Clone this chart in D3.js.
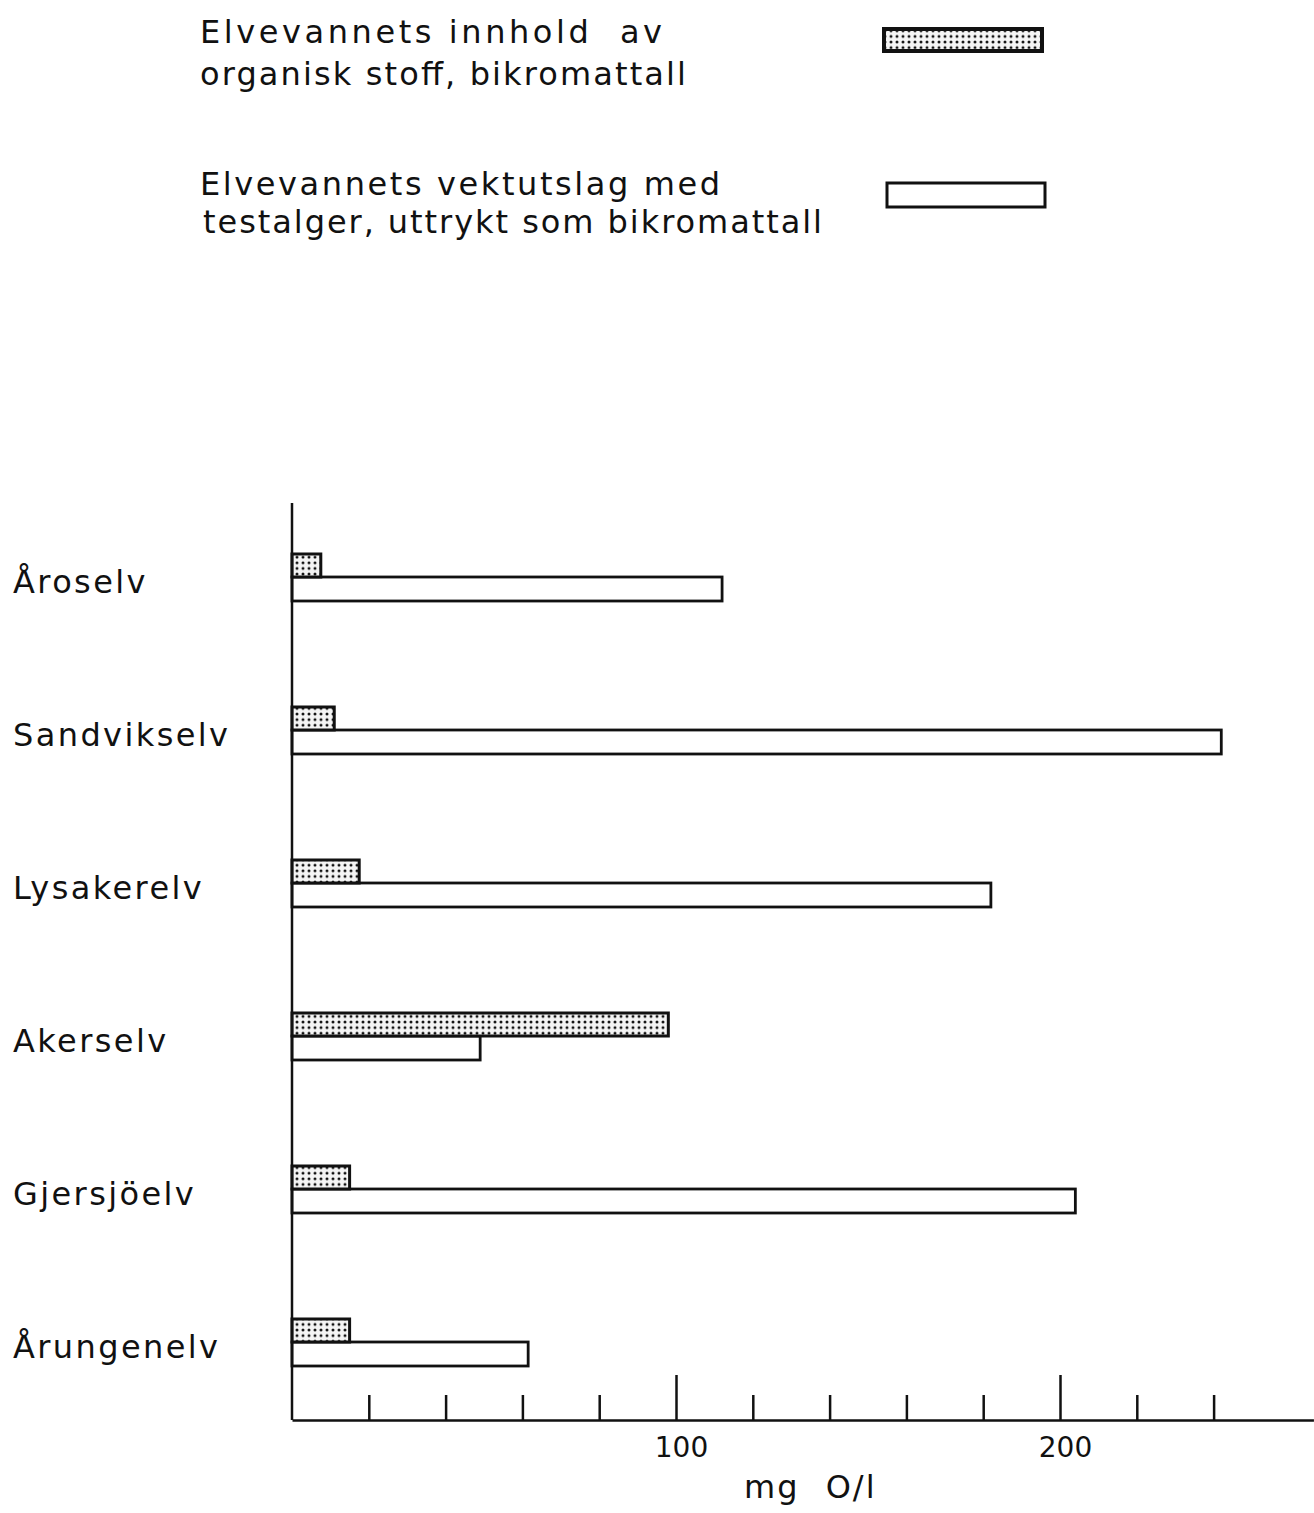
<!DOCTYPE html>
<html>
<head>
<meta charset="utf-8">
<script src="https://cdn.jsdelivr.net/npm/d3@7"></script>
<style>
  html, body { margin: 0; padding: 0; background: #fff; }
  svg { display: block; }
  text { font-family: "DejaVu Sans", sans-serif; fill: #111; }
</style>
</head>
<body>
<svg id="chart" width="1314" height="1513"></svg>
<script>
// ---- data ----
const rivers = ["Åroselv", "Sandvikselv", "Lysakerelv", "Akerselv", "Gjersjöelv", "Årungenelv"];
const organicMatter = [7.5, 11, 17.5, 98, 15, 15];        // stippled bars, mg O/l
const algaeGrowth   = [112, 242, 182, 49, 204, 61.5];      // white bars, mg O/l
const tickValues    = [20, 40, 60, 80, 100, 120, 140, 160, 180, 200, 220, 240];
const labeledTicks  = [100, 200];
const axisTitle     = "mg O/l";
const legendLines1  = ["Elvevannets innhold  av", "organisk stoff, bikromattall"];
const legendLines2  = ["Elvevannets vektutslag med", "testalger, uttrykt som bikromattall"];

// ---- layout ----
const svg = d3.select("#chart");
const x0 = 292, axisY = 1420, axisTop = 503;
const x = d3.scaleLinear().domain([0, 266]).range([x0, x0 + 266 * 3.84]);
const y = d3.scalePoint().domain(rivers).range([577, 1342]);
const barH = 23;

// stipple pattern
const defs = svg.append("defs");
const pat = defs.append("pattern")
  .attr("id", "stipple").attr("patternUnits", "userSpaceOnUse")
  .attr("width", 6).attr("height", 5.6);
pat.append("rect").attr("width", 6).attr("height", 5.6).attr("fill", "#f4f4f4");
pat.append("circle").attr("cx", 3).attr("cy", 2.8).attr("r", 1.5).attr("fill", "#111");

// ---- legend ----
const legend = svg.append("g");
function legendText(lines, baselines, lengths, x) {
  lines.forEach((t, i) => {
    legend.append("text")
      .attr("x", x[i]).attr("y", baselines[i])
      .attr("font-size", 32)
      .attr("textLength", lengths[i])
      .attr("lengthAdjust", "spacing")
      .style("white-space", "pre")
      .text(t);
  });
}
legendText(legendLines1, [43, 85], [462, 486], [200, 200]);
legendText(legendLines2, [195, 233], [520, 619], [200, 203]);
legend.append("rect").attr("x", 884).attr("y", 29).attr("width", 158).attr("height", 22)
  .attr("fill", "url(#stipple)").attr("stroke", "#111").attr("stroke-width", 4);
legend.append("rect").attr("x", 887).attr("y", 183).attr("width", 158).attr("height", 24)
  .attr("fill", "#fff").attr("stroke", "#111").attr("stroke-width", 3);

// ---- bars ----
const data = rivers.map((r, i) => ({ r, org: organicMatter[i], alg: algaeGrowth[i] }));
const bars = svg.append("g");
// white bars (below)
bars.selectAll("rect.alg").data(data).join("rect")
  .attr("class", "alg")
  .attr("x", x(0))
  .attr("y", d => y(d.r))
  .attr("width", d => x(d.alg) - x(0))
  .attr("height", barH + 1)
  .attr("fill", "#fff").attr("stroke", "#111").attr("stroke-width", 2.8);
// stippled bars (above)
bars.selectAll("rect.org").data(data).join("rect")
  .attr("class", "org")
  .attr("x", x(0))
  .attr("y", d => y(d.r) - barH)
  .attr("width", d => x(d.org) - x(0))
  .attr("height", barH)
  .attr("fill", "url(#stipple)").attr("stroke", "#111").attr("stroke-width", 3);

// category labels
svg.append("g").selectAll("text").data(rivers).join("text")
  .attr("x", 13)
  .attr("y", d => y(d) + 16)
  .attr("font-size", 32)
  .attr("letter-spacing", 2.4)
  .text(d => d);

// ---- axes ----
svg.append("line")
  .attr("x1", x0).attr("x2", x0).attr("y1", axisTop).attr("y2", axisY)
  .attr("stroke", "#111").attr("stroke-width", 2.5);

const xAxis = d3.axisBottom(x)
  .tickValues(tickValues)
  .tickSizeInner(-25)
  .tickSizeOuter(0)
  .tickFormat(d => labeledTicks.includes(d) ? d : "");
const gx = svg.append("g").attr("transform", `translate(0,${axisY})`).call(xAxis);
gx.select(".domain").attr("stroke", "#111").attr("stroke-width", 2.5);
gx.selectAll(".tick line").attr("stroke", "#111").attr("stroke-width", 2.5)
  .attr("y2", d => labeledTicks.includes(d) ? -45 : -25);
gx.selectAll(".tick text")
  .attr("y", 37).attr("dy", 0).attr("dx", 5)
  .attr("font-size", 28)
  .attr("font-family", "DejaVu Sans, sans-serif")
  .attr("fill", "#111");

svg.append("text")
  .attr("x", x(0) + 452).attr("y", 1498)
  .attr("font-size", 32)
  .attr("letter-spacing", 2)
  .attr("word-spacing", 14)
  .style("white-space", "pre")
  .text(axisTitle);
</script>
</body>
</html>
